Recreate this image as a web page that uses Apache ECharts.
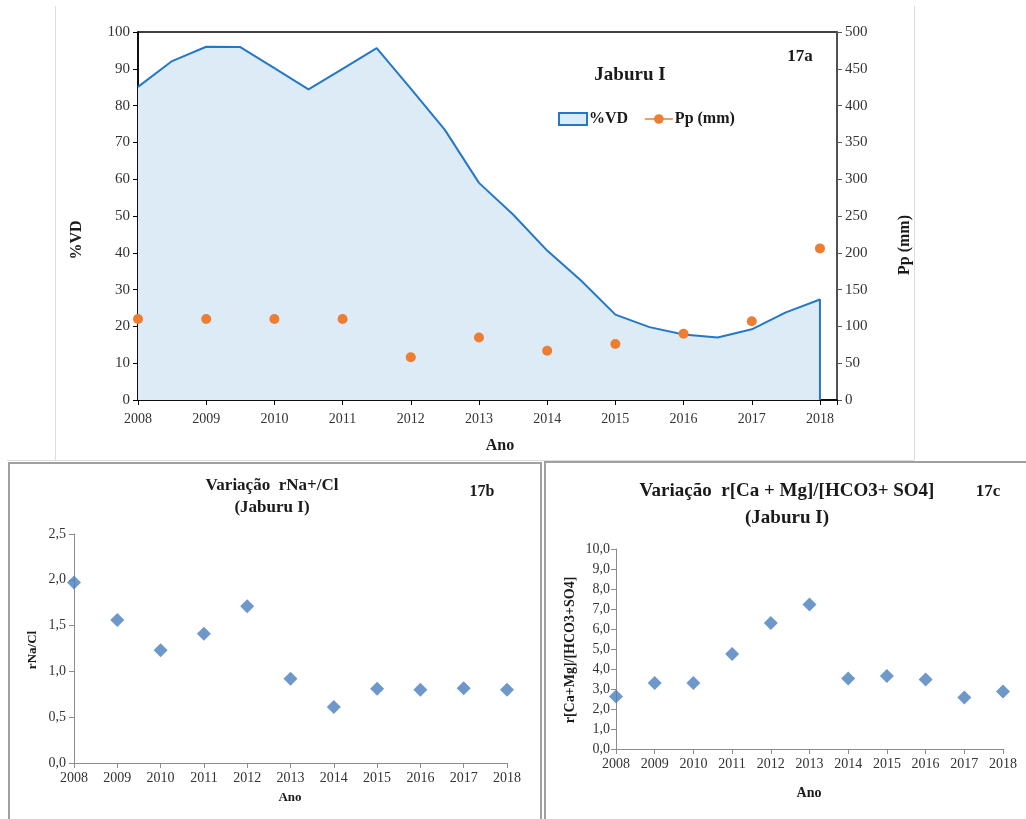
<!DOCTYPE html>
<html><head><meta charset="utf-8">
<script src="https://cdn.jsdelivr.net/npm/echarts@6/dist/echarts.min.js"></script>
<style>html,body{margin:0;padding:0;background:#fff}#c{width:1026px;height:819px}</style>
</head><body><div id="c"></div>
<script>
// ---- 17a data ----
const vdYears = [2008, 2008.5, 2009, 2009.5, 2010, 2010.5, 2011, 2011.5, 2012, 2012.5, 2013, 2013.5, 2014, 2014.5, 2015, 2015.5, 2016, 2016.5, 2017, 2017.5, 2018, 2018];
const vdValues = [85.1, 92.1, 96.0, 95.9, 90.2, 84.4, 90.0, 95.6, 84.6, 73.4, 59.0, 50.4, 40.6, 32.4, 23.2, 19.8, 17.8, 17.0, 19.2, 23.8, 27.3, 0];
const ppYears = [2008, 2009, 2010, 2011, 2012, 2013, 2014, 2015, 2016, 2017, 2018];
const ppValues = [110, 110, 110, 110, 58, 85, 67, 76, 90, 107, 206];
// ---- 17b / 17c data ----
const years = ['2008','2009','2010','2011','2012','2013','2014','2015','2016','2017','2018'];
const naCl = [1.97, 1.56, 1.23, 1.41, 1.71, 0.92, 0.61, 0.81, 0.80, 0.815, 0.80];
const caMg = [2.62, 3.30, 3.30, 4.75, 6.30, 7.23, 3.53, 3.65, 3.47, 2.58, 2.87];

const SERIF = '"Liberation Serif", "DejaVu Serif", serif';
const comma1 = v => v.toFixed(1).replace('.', ',');

const chart = echarts.init(document.getElementById('c'), null, {renderer: 'canvas'});

const vdData = vdYears.map((x, i) => [x, vdValues[i]]);
const ppData = ppYears.map((x, i) => [x, ppValues[i]]);

function txt(x, y, text, size, opts) {
  return Object.assign({
    type: 'text', x: x, y: y, silent: true,
    style: Object.assign({text: text, font: 'bold ' + size + 'px ' + SERIF, fill: '#1a1a1a', textAlign: 'center', textVerticalAlign: 'middle'}, (opts && opts.style) || {})
  }, opts && opts.rotation !== undefined ? {rotation: opts.rotation} : {});
}

const catAxisCommon = {
  type: 'category', boundaryGap: false, data: years,
  axisLine: {lineStyle: {color: '#8c8c8c', width: 1}},
  axisTick: {show: true, alignWithLabel: true, length: 5, lineStyle: {color: '#8c8c8c'}},
  axisLabel: {color: '#333', fontFamily: SERIF, fontSize: 14, margin: 8},
  splitLine: {show: false}
};

const option = {
  animation: false,
  backgroundColor: '#fff',
  grid: [
    {left: 138, right: 189, top: 32, bottom: 419, show: true, borderColor: '#000', borderWidth: 1.5, backgroundColor: 'transparent'},
    {left: 74, right: 519, top: 534, bottom: 56},
    {left: 616, right: 23, top: 549, bottom: 70}
  ],
  xAxis: [
    {gridIndex: 0, type: 'value', min: 2008, max: 2018.25, interval: 1,
     axisLine: {show: true, lineStyle: {color: '#000', width: 1.5}},
     axisTick: {show: true, length: 5, lineStyle: {color: '#000'}},
     axisLabel: {color: '#333', fontFamily: SERIF, fontSize: 14, margin: 12,
       formatter: v => Number.isInteger(v) ? String(v) : ''},
     splitLine: {show: false}},
    Object.assign({gridIndex: 1}, catAxisCommon),
    Object.assign({gridIndex: 2}, catAxisCommon)
  ],
  yAxis: [
    {gridIndex: 0, type: 'value', min: 0, max: 100, interval: 10, position: 'left',
     axisLine: {show: true, lineStyle: {color: '#000', width: 1.5}},
     axisTick: {show: true, length: 5, lineStyle: {color: '#000'}},
     axisLabel: {color: '#333', fontFamily: SERIF, fontSize: 15, margin: 8},
     splitLine: {show: false}},
    {gridIndex: 0, type: 'value', min: 0, max: 500, interval: 50, position: 'right',
     axisLine: {show: true, lineStyle: {color: '#595959', width: 1.5}},
     axisTick: {show: true, length: 5, lineStyle: {color: '#595959'}},
     axisLabel: {color: '#333', fontFamily: SERIF, fontSize: 15, margin: 8},
     splitLine: {show: false}},
    {gridIndex: 1, type: 'value', min: 0, max: 2.5, interval: 0.5,
     axisLine: {show: true, lineStyle: {color: '#8c8c8c'}},
     axisTick: {show: true, length: 5, lineStyle: {color: '#8c8c8c'}},
     axisLabel: {color: '#333', fontFamily: SERIF, fontSize: 14, margin: 8, formatter: comma1},
     splitLine: {show: false}},
    {gridIndex: 2, type: 'value', min: 0, max: 10, interval: 1,
     axisLine: {show: true, lineStyle: {color: '#8c8c8c'}},
     axisTick: {show: true, length: 5, lineStyle: {color: '#8c8c8c'}},
     axisLabel: {color: '#333', fontFamily: SERIF, fontSize: 14, margin: 6, formatter: comma1},
     splitLine: {show: false}}
  ],
  legend: {
    left: 553, top: 106, itemGap: 16, itemWidth: 28, itemHeight: 12,
    textStyle: {fontFamily: SERIF, fontSize: 16, fontWeight: 'bold', color: '#1a1a1a', padding: [0, 0, 0, -3]},
    data: [
      {name: '%VD', icon: 'rect', itemStyle: {color: '#DDEBF7', borderColor: '#2478C6', borderWidth: 2}},
      {name: 'Pp (mm)', lineStyle: {width: 1.5, opacity: 1, color: '#ED7D31'}}
    ]
  },
  series: [
    {name: '%VD', type: 'line', xAxisIndex: 0, yAxisIndex: 0, data: vdData, symbol: 'none',
     lineStyle: {color: '#2478C6', width: 2}, itemStyle: {color: '#2478C6'},
     areaStyle: {color: '#DDEBF7', opacity: 1}, z: 2},
    {name: 'Pp (mm)', type: 'line', xAxisIndex: 0, yAxisIndex: 1, data: ppData,
     symbol: 'circle', symbolSize: 10, itemStyle: {color: '#ED7D31'},
     lineStyle: {opacity: 0, width: 0, color: '#ED7D31'}, z: 5},
    {name: 'rNa/Cl', type: 'scatter', xAxisIndex: 1, yAxisIndex: 2, data: naCl,
     symbol: 'diamond', symbolSize: 14, itemStyle: {color: '#4A7EBB'}},
    {name: 'Ca+Mg', type: 'scatter', xAxisIndex: 2, yAxisIndex: 3, data: caMg,
     symbol: 'diamond', symbolSize: 14, itemStyle: {color: '#4A7EBB'}}
  ],
  graphic: [
    // panel frames
    {type: 'line', silent: true, shape: {x1: 55.5, y1: 6, x2: 55.5, y2: 460}, style: {stroke: '#dcdcdc', lineWidth: 1}},
    {type: 'line', silent: true, shape: {x1: 914.5, y1: 6, x2: 914.5, y2: 460}, style: {stroke: '#dcdcdc', lineWidth: 1}},
    {type: 'line', silent: true, shape: {x1: 7, y1: 460.5, x2: 914, y2: 460.5}, style: {stroke: '#dcdcdc', lineWidth: 1}},
    {type: 'rect', silent: true, shape: {x: 9, y: 463, width: 532, height: 380}, style: {fill: 'none', stroke: '#a0a0a0', lineWidth: 2}},
    {type: 'rect', silent: true, shape: {x: 545, y: 462, width: 500, height: 380}, style: {fill: 'none', stroke: '#a0a0a0', lineWidth: 2}},
    // 17a texts
    txt(630, 75, 'Jaburu I', 19),
    txt(800, 57, '17a', 17),
    txt(77, 240, '%VD', 16, {rotation: Math.PI / 2}),
    txt(905, 245, 'Pp (mm)', 16, {rotation: Math.PI / 2}),
    txt(500, 446, 'Ano', 16),
    // 17b texts
    txt(272, 486, 'Variação  rNa+/Cl', 17),
    txt(272, 508, '(Jaburu I)', 17),
    txt(482, 492, '17b', 16),
    txt(33, 650, 'rNa/Cl', 13, {rotation: Math.PI / 2}),
    txt(290, 798, 'Ano', 13),
    // 17c texts
    txt(787, 491, 'Variação  r[Ca + Mg]/[HCO3+ SO4]', 19),
    txt(787, 518, '(Jaburu I)', 19),
    txt(988, 492, '17c', 17),
    txt(570, 650, 'r[Ca+Mg]/[HCO3+SO4]', 14, {rotation: Math.PI / 2}),
    txt(809, 793, 'Ano', 14)
  ]
};
chart.setOption(option);
</script></body></html>
